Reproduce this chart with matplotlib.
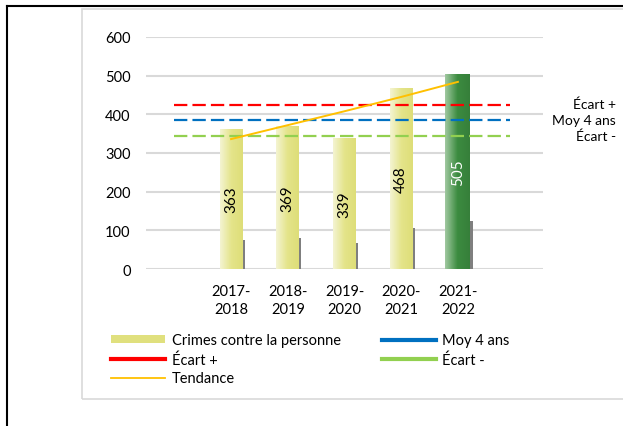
import numpy as np
import matplotlib.pyplot as plt
from matplotlib.colors import LinearSegmentedColormap
from matplotlib.lines import Line2D
from matplotlib.patches import Patch, Rectangle

plt.rcParams['font.family'] = ['Lato', 'DejaVu Sans']

annees = ['2017-\n2018', '2018-\n2019', '2019-\n2020', '2020-\n2021', '2021-\n2022']
crimes = [363, 369, 339, 468, 505]
ombre = [75, 80, 68, 107, 123]
tendance = [336, 372, 408, 445, 484]
moy_4ans = 385
ecart_plus = 425
ecart_moins = 345

fig = plt.figure(figsize=(6.23, 4.27), dpi=100)

# cadres
fig.add_artist(Rectangle((82 / 623, 1 - 400 / 427), 1, 390 / 427, transform=fig.transFigure,
                         fill=False, ec='#d9d9d9', lw=1.2))
fig.add_artist(Line2D([7 / 623, 7 / 623], [0, 1 - 7 / 427], transform=fig.transFigure, color='black', lw=1.5))
fig.add_artist(Line2D([7 / 623, 1], [1 - 7 / 427, 1 - 7 / 427], transform=fig.transFigure, color='black', lw=1.5))

ax = fig.add_axes([146 / 623, 1 - 270 / 427, 397 / 623, 232 / 427])
ax.set_yticks(range(0, 601, 100))
ax.grid(axis='y', color='#d9d9d9', lw=1.5)
ax.set_axisbelow(True)
for s in ax.spines.values():
    s.set_visible(False)
ax.tick_params(length=0, labelsize=10.5)
ax.tick_params(axis='y', pad=11)
ax.tick_params(axis='x', pad=11)

x = np.arange(len(crimes))
ax.set_xticks(x)
ax.set_xticklabels(annees, linespacing=1.3)

jaune = LinearSegmentedColormap.from_list('j', ['#f4f4d2', '#e4e48a', '#dede78'])
vert = LinearSegmentedColormap.from_list('v', ['#a0c8a0', '#3c8c40', '#367f3a'])
grad = np.linspace(0, 1, 64).reshape(1, -1)

for i, v in enumerate(crimes):
    last = i == len(crimes) - 1
    w = 0.44 if last else 0.4
    ax.bar(x[i] + w / 2 + 0.02, ombre[i], width=0.04, color='#7f7f7f', zorder=2)
    bar = ax.bar(x[i], v, width=w, color='none', zorder=3)[0]
    im = ax.imshow(grad, cmap=vert if last else jaune, aspect='auto',
                   extent=(x[i] - w / 2, x[i] + w / 2, 0, v), zorder=3)
    im.set_clip_path(bar)
    ax.text(x[i], v / 2, str(v), rotation=90, ha='center', va='center', fontsize=11,
            color='white' if last else 'black', zorder=5)

xl = [-1.0, 4.92]
ax.plot(xl, [ecart_plus] * 2, color='#ff0000', lw=1.6, dashes=(6, 2.3), zorder=4)
ax.plot(xl, [moy_4ans] * 2, color='#0070c0', lw=1.6, dashes=(6, 2.3), zorder=4)
ax.plot(xl, [ecart_moins] * 2, color='#92d050', lw=1.6, dashes=(6, 2.3), zorder=4)
ax.plot(x, tendance, color='#ffc000', lw=1.4, zorder=4)
ax.set_xlim(-1.5, 5.5)
ax.set_ylim(0, 600)

fig.text(616 / 623, 1 - 105 / 427, 'Écart +', ha='right', va='center', fontsize=10)
fig.text(616 / 623, 1 - 121 / 427, 'Moy 4 ans', ha='right', va='center', fontsize=10)
fig.text(616 / 623, 1 - 137 / 427, 'Écart -', ha='right', va='center', fontsize=10)

handles = [
    Patch(facecolor='#e0e07e', edgecolor='none'),
    Line2D([], [], color='#ff0000', lw=3),
    Line2D([], [], color='#ffc000', lw=1.3),
    Line2D([], [], color='#0070c0', lw=3),
    Line2D([], [], color='#92d050', lw=3),
]
labels = ['Crimes contre la personne', 'Écart +', 'Tendance', 'Moy 4 ans', 'Écart -']
fig.legend(handles, labels, ncol=2, loc='upper left', bbox_to_anchor=(104 / 623, 1 - 327 / 427),
           frameon=False, fontsize=10.5, handlelength=3.7, handleheight=0.45, handletextpad=0.45,
           labelspacing=0.33, columnspacing=2.8, borderpad=0)

fig.savefig('out.png', dpi=100)
